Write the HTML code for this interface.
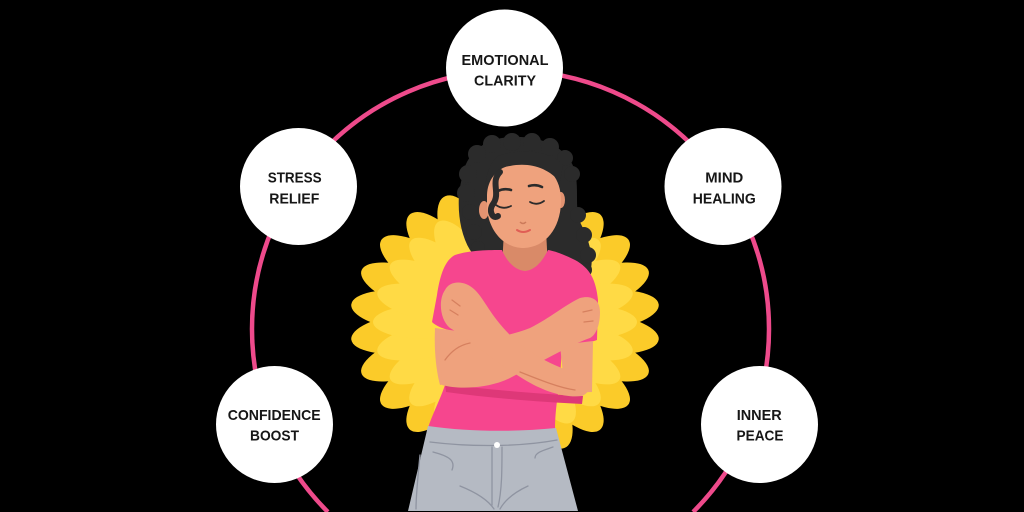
<!DOCTYPE html>
<html>
<head>
<meta charset="utf-8">
<style>
html,body{margin:0;padding:0;background:#000;width:1024px;height:512px;overflow:hidden;}
svg{display:block;}
text{font-family:"Liberation Sans",Arial,sans-serif;font-weight:bold;font-size:15px;fill:#161616;}
</style>
</head>
<body>
<svg width="1024" height="512" viewBox="0 0 1024 512" xmlns="http://www.w3.org/2000/svg">
<rect width="1024" height="512" fill="#000"/>

<!-- ring (arc clipped at bottom edge) -->
<path d="M327.9 512 A258.5 258.5 0 1 1 693.1 512" fill="none" stroke="#EE4A8B" stroke-width="4.5"/>

<!-- flower -->
<g transform="translate(505,322) scale(1,0.88)">
  <g fill="#FBCB29">
    <ellipse cx="95" cy="0" rx="60" ry="23" transform="rotate(7.5)"/>
    <ellipse cx="95" cy="0" rx="60" ry="23" transform="rotate(22.5)"/>
    <ellipse cx="95" cy="0" rx="60" ry="23" transform="rotate(37.5)"/>
    <ellipse cx="95" cy="0" rx="60" ry="23" transform="rotate(52.5)"/>
    <ellipse cx="95" cy="0" rx="60" ry="23" transform="rotate(67.5)"/>
    <ellipse cx="95" cy="0" rx="60" ry="23" transform="rotate(82.5)"/>
    <ellipse cx="95" cy="0" rx="60" ry="23" transform="rotate(97.5)"/>
    <ellipse cx="95" cy="0" rx="60" ry="23" transform="rotate(112.5)"/>
    <ellipse cx="95" cy="0" rx="60" ry="23" transform="rotate(127.5)"/>
    <ellipse cx="95" cy="0" rx="60" ry="23" transform="rotate(142.5)"/>
    <ellipse cx="95" cy="0" rx="60" ry="23" transform="rotate(157.5)"/>
    <ellipse cx="95" cy="0" rx="60" ry="23" transform="rotate(172.5)"/>
    <ellipse cx="95" cy="0" rx="60" ry="23" transform="rotate(187.5)"/>
    <ellipse cx="95" cy="0" rx="60" ry="23" transform="rotate(202.5)"/>
    <ellipse cx="95" cy="0" rx="60" ry="23" transform="rotate(217.5)"/>
    <ellipse cx="95" cy="0" rx="60" ry="23" transform="rotate(232.5)"/>
    <ellipse cx="95" cy="0" rx="60" ry="23" transform="rotate(247.5)"/>
    <ellipse cx="95" cy="0" rx="60" ry="23" transform="rotate(262.5)"/>
    <ellipse cx="95" cy="0" rx="60" ry="23" transform="rotate(277.5)"/>
    <ellipse cx="95" cy="0" rx="60" ry="23" transform="rotate(292.5)"/>
    <ellipse cx="95" cy="0" rx="60" ry="23" transform="rotate(307.5)"/>
    <ellipse cx="95" cy="0" rx="60" ry="23" transform="rotate(322.5)"/>
    <ellipse cx="95" cy="0" rx="60" ry="23" transform="rotate(337.5)"/>
    <ellipse cx="95" cy="0" rx="60" ry="23" transform="rotate(352.5)"/>
  </g>
  <g fill="#FFDA45">
    <ellipse cx="82" cy="0" rx="50" ry="19" transform="rotate(0)"/>
    <ellipse cx="82" cy="0" rx="50" ry="19" transform="rotate(15)"/>
    <ellipse cx="82" cy="0" rx="50" ry="19" transform="rotate(30)"/>
    <ellipse cx="82" cy="0" rx="50" ry="19" transform="rotate(45)"/>
    <ellipse cx="82" cy="0" rx="50" ry="19" transform="rotate(60)"/>
    <ellipse cx="82" cy="0" rx="50" ry="19" transform="rotate(120)"/>
    <ellipse cx="82" cy="0" rx="50" ry="19" transform="rotate(135)"/>
    <ellipse cx="82" cy="0" rx="50" ry="19" transform="rotate(150)"/>
    <ellipse cx="82" cy="0" rx="50" ry="19" transform="rotate(165)"/>
    <ellipse cx="82" cy="0" rx="50" ry="19" transform="rotate(180)"/>
    <ellipse cx="82" cy="0" rx="50" ry="19" transform="rotate(195)"/>
    <ellipse cx="82" cy="0" rx="50" ry="19" transform="rotate(210)"/>
    <ellipse cx="82" cy="0" rx="50" ry="19" transform="rotate(225)"/>
    <ellipse cx="82" cy="0" rx="50" ry="19" transform="rotate(240)"/>
    <ellipse cx="82" cy="0" rx="50" ry="19" transform="rotate(300)"/>
    <ellipse cx="82" cy="0" rx="50" ry="19" transform="rotate(315)"/>
    <ellipse cx="82" cy="0" rx="50" ry="19" transform="rotate(330)"/>
    <ellipse cx="82" cy="0" rx="50" ry="19" transform="rotate(345)"/>
  </g>
</g>

<!-- hair back -->
<g fill="#2B2B2B">
  <path d="M470 250 C458 230 456 200 462 178 C466 152 485 138 512 137 C542 136 566 147 574 168 C580 188 574 205 580 222 C590 242 596 262 588 276 C575 280 562 270 552 262 L495 262 C485 262 476 258 470 250 Z"/>
  <circle cx="468" cy="174" r="9"/>
  <circle cx="466" cy="193" r="9"/>
  <circle cx="470" cy="212" r="8"/>
  <circle cx="477" cy="154" r="9"/>
  <circle cx="492" cy="144" r="9"/>
  <circle cx="512" cy="142" r="9"/>
  <circle cx="532" cy="142" r="9"/>
  <circle cx="550" cy="147" r="9"/>
  <circle cx="565" cy="158" r="8"/>
  <circle cx="572" cy="174" r="8"/>
  <circle cx="578" cy="215" r="8"/>
  <circle cx="584" cy="235" r="8"/>
  <circle cx="588" cy="255" r="8"/>
  <circle cx="585" cy="270" r="7"/>
  <circle cx="474" cy="232" r="8"/>
  <circle cx="478" cy="248" r="7"/>
</g>

<!-- neck -->
<path fill="#D98A68" d="M504 230 L546 230 L548 268 C535 278 515 278 502 268 Z"/>

<!-- ears -->
<ellipse cx="484" cy="210" rx="5" ry="9" fill="#E39371"/>
<ellipse cx="561" cy="200" rx="4" ry="8" fill="#E39371"/>
<!-- face -->
<path fill="#EFA27D" d="M487 195 C488 172 506 162 528 163 C550 164 562 180 561 203 C560 228 546 247 524 248 C504 248 490 232 487 210 Z"/>
<!-- fringe -->
<path fill="#2B2B2B" d="M486 200 C485 180 494 168 510 166 C530 162 548 168 560 182 L563 165 C550 150 520 148 498 156 C488 164 484 180 486 200 Z"/>
<path d="M500 172 C490 182 501 193 493 204 C488 211 493 220 498 216" fill="none" stroke="#2B2B2B" stroke-width="6" stroke-linecap="round"/>

<!-- eyes, brows, nose, mouth -->
<g fill="none" stroke="#2B2B2B" stroke-linecap="round">
  <path d="M496 205 Q503 210 511 206" stroke-width="1.8"/>
  <path d="M530 202 Q537 206 544 201" stroke-width="1.8"/>
  <path d="M498 191 Q504 188 511 190" stroke-width="2.6"/>
  <path d="M529 186 Q536 184 542 187" stroke-width="2.6"/>
</g>
<path d="M520 222 Q523 225 526 222" fill="none" stroke="#CC7A5A" stroke-width="1.5"/>
<path d="M517 230 Q523 234 530 230" fill="none" stroke="#E05E55" stroke-width="2" stroke-linecap="round"/>

<!-- shirt -->
<path fill="#F6468E" d="M502 250 C490 250 470 250 455 255 C445 260 440 275 437 295 L432 322 C440 330 460 333 472 333 L470 385 L445 385 C440 400 432 415 428 428 C470 434 515 434 555 430 C555 410 558 395 560 380 L562 345 C575 344 590 343 597 340 L598 300 C596 280 590 268 575 260 C565 255 555 251 548 250 C542 262 535 270 525 271 C515 270 507 262 502 250 Z"/>

<!-- arms -->
<path fill="#EFA27D" d="M435 328 L472 333 L470 380 L440 385 C436 370 434 350 435 328 Z"/>
<path fill="#EFA27D" d="M560 345 L593 341 L592 392 L565 393 Z"/>
<path fill="#DE3878" d="M445 384 C490 390 540 394 583 396 L582 404 C540 402 490 398 446 392 Z"/>
<path fill="#EFA27D" d="M440 345 C460 342 500 340 530 328 C550 318 565 305 580 298 C592 295 600 300 600 312 C600 325 596 335 590 338 C570 345 545 360 510 378 C490 388 460 390 442 385 Z"/>
<path fill="#EFA27D" d="M445 290 C450 280 465 280 475 290 C485 300 490 315 510 335 C530 355 560 370 585 375 C592 380 592 392 582 396 C565 398 545 392 525 380 C495 362 470 340 450 328 C440 320 438 300 445 290 Z"/>
<g fill="none" stroke="#D6805F" stroke-width="1.3" stroke-linecap="round">
  <path d="M452 300 L460 306"/>
  <path d="M450 310 L458 315"/>
  <path d="M583 312 L592 310"/>
  <path d="M584 322 L593 321"/>
  <path d="M445 360 C452 350 460 345 470 343"/>
  <path d="M520 372 C540 380 560 388 575 390"/>
</g>

<!-- jeans -->
<path fill="#B5BAC3" d="M428 426 C470 432 515 432 556 428 L578 511 L408 511 Z"/>
<g fill="none" stroke="#8F94A1" stroke-width="1.3" stroke-linecap="round">
  <path d="M430 442 C470 447 520 447 557 440"/>
  <path d="M492 447 L492 505"/>
  <path d="M502 447 C502 470 502 490 498 507"/>
  <path d="M433 452 C448 456 456 460 452 470"/>
  <path d="M553 447 C545 450 535 452 535 458"/>
  <path d="M460 486 C475 492 488 500 494 509"/>
  <path d="M528 486 C515 492 505 500 500 509"/>
  <path d="M420 455 C418 475 416 495 416 509"/>
</g>
<circle cx="497" cy="445" r="3" fill="#fff"/>

<!-- nodes -->
<circle cx="504.5" cy="68" r="58.5" fill="#fff"/>
<circle cx="298.5" cy="186.5" r="58.5" fill="#fff"/>
<circle cx="274.5" cy="424.5" r="58.5" fill="#fff"/>
<circle cx="723" cy="186.5" r="58.5" fill="#fff"/>
<circle cx="759.5" cy="424.5" r="58.5" fill="#fff"/>

<text x="505" y="65" text-anchor="middle" textLength="87" lengthAdjust="spacingAndGlyphs">EMOTIONAL</text>
<text x="505" y="85.5" text-anchor="middle" textLength="62" lengthAdjust="spacingAndGlyphs">CLARITY</text>

<text x="294.7" y="182.7" text-anchor="middle" textLength="54" lengthAdjust="spacingAndGlyphs">STRESS</text>
<text x="294.3" y="203.3" text-anchor="middle" textLength="50" lengthAdjust="spacingAndGlyphs">RELIEF</text>

<text x="274.2" y="420" text-anchor="middle" textLength="93" lengthAdjust="spacingAndGlyphs">CONFIDENCE</text>
<text x="274.5" y="440.7" text-anchor="middle" textLength="49" lengthAdjust="spacingAndGlyphs">BOOST</text>

<text x="724.3" y="182.3" text-anchor="middle" textLength="38" lengthAdjust="spacingAndGlyphs">MIND</text>
<text x="724.3" y="203.3" text-anchor="middle" textLength="63" lengthAdjust="spacingAndGlyphs">HEALING</text>

<text x="759.2" y="420" text-anchor="middle" textLength="45" lengthAdjust="spacingAndGlyphs">INNER</text>
<text x="760" y="440.7" text-anchor="middle" textLength="47" lengthAdjust="spacingAndGlyphs">PEACE</text>
</svg>
</body>
</html>
